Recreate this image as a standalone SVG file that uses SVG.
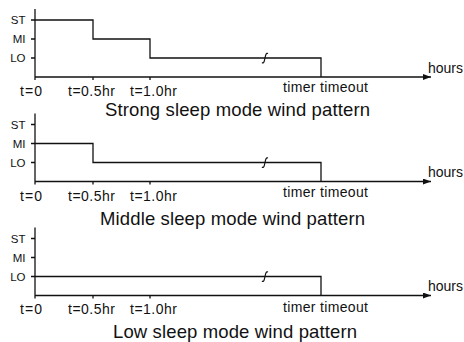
<svg xmlns="http://www.w3.org/2000/svg" width="464" height="342" viewBox="0 0 464 342">
<defs>
<style>
.ln{fill:none;stroke:#111;stroke-width:1.3}
.ax{fill:none;stroke:#111;stroke-width:1.3}
.lvl{font-family:"Liberation Sans",Arial,sans-serif;font-size:11.5px;fill:#111;text-anchor:end}
.tl{font-family:"Liberation Sans",Arial,sans-serif;font-size:14px;fill:#111;text-anchor:middle}
.hr{font-family:"Liberation Sans",Arial,sans-serif;font-size:14px;fill:#111}
.ti{font-family:"Liberation Sans",Arial,sans-serif;font-size:18.5px;fill:#111;text-anchor:middle}
</style>
<marker id="arr" viewBox="0 0 8 6" refX="8" refY="3" markerWidth="8" markerHeight="6" markerUnits="userSpaceOnUse" orient="auto">
<path d="M0,0 L8,3 L0,6 Z" fill="#111"/>
</marker>
<path id="brk" d="M-3,4.5 C-1.2,6 -0.6,3 0,0 S1.2,-5.5 3,-4.5" fill="none" stroke="#111" stroke-width="1.2"/>
</defs>

<g id="panel-strong">
<path class="ax" d="M35,9 V80"/>
<path class="ax" d="M35,77 H431" marker-end="url(#arr)"/>
<path class="ax" d="M31,20 H35 M31,39 H35 M31,58 H35 M93,77 V80 M150,77 V80"/>
<path class="ln" d="M35,20 H93 V39 H150 V58 H321 V77"/>
<use href="#brk" x="265" y="58"/>
<text class="lvl" x="25.5" y="24">ST</text>
<text class="lvl" x="25.5" y="43">MI</text>
<text class="lvl" x="25.5" y="62">LO</text>
<text class="tl" x="31" y="96" textLength="22">t=0</text>
<text class="tl" x="91.5" y="96" textLength="47">t=0.5hr</text>
<text class="tl" x="153.5" y="96" textLength="47">t=1.0hr</text>
<text class="tl" x="325.5" y="92" textLength="85">timer timeout</text>
<text class="hr" x="428" y="73" textLength="35">hours</text>
<text class="ti" x="237.5" y="115.5" textLength="265">Strong sleep mode wind pattern</text>
</g>

<g id="panel-middle">
<path class="ax" d="M35,113.5 V184.5"/>
<path class="ax" d="M35,181.5 H431" marker-end="url(#arr)"/>
<path class="ax" d="M31,124.5 H35 M31,143.5 H35 M31,162.5 H35 M93,181.5 V184.5 M150,181.5 V184.5"/>
<path class="ln" d="M35,143.5 H93 V162.5 H321 V181.5"/>
<use href="#brk" x="265" y="162.5"/>
<text class="lvl" x="25.5" y="128.5">ST</text>
<text class="lvl" x="25.5" y="147.5">MI</text>
<text class="lvl" x="25.5" y="166.5">LO</text>
<text class="tl" x="31" y="200.5" textLength="22">t=0</text>
<text class="tl" x="91.5" y="200.5" textLength="47">t=0.5hr</text>
<text class="tl" x="153.5" y="200.5" textLength="47">t=1.0hr</text>
<text class="tl" x="325.5" y="197" textLength="85">timer timeout</text>
<text class="hr" x="428" y="177" textLength="35">hours</text>
<text class="ti" x="232.5" y="224.5" textLength="265">Middle sleep mode wind pattern</text>
</g>

<g id="panel-low">
<path class="ax" d="M35,227.5 V298.5"/>
<path class="ax" d="M35,295.5 H431" marker-end="url(#arr)"/>
<path class="ax" d="M31,238.5 H35 M31,257.5 H35 M31,276.5 H35 M93,295.5 V298.5 M150,295.5 V298.5"/>
<path class="ln" d="M35,276.5 H321 V295.5"/>
<use href="#brk" x="265" y="276.5"/>
<text class="lvl" x="25.5" y="242.5">ST</text>
<text class="lvl" x="25.5" y="261.5">MI</text>
<text class="lvl" x="25.5" y="280.5">LO</text>
<text class="tl" x="31" y="314" textLength="22">t=0</text>
<text class="tl" x="91.5" y="314" textLength="47">t=0.5hr</text>
<text class="tl" x="153.5" y="314" textLength="47">t=1.0hr</text>
<text class="tl" x="325.5" y="312" textLength="85">timer timeout</text>
<text class="hr" x="428" y="291" textLength="35">hours</text>
<text class="ti" x="235" y="337.5" textLength="244">Low sleep mode wind pattern</text>
</g>
</svg>
